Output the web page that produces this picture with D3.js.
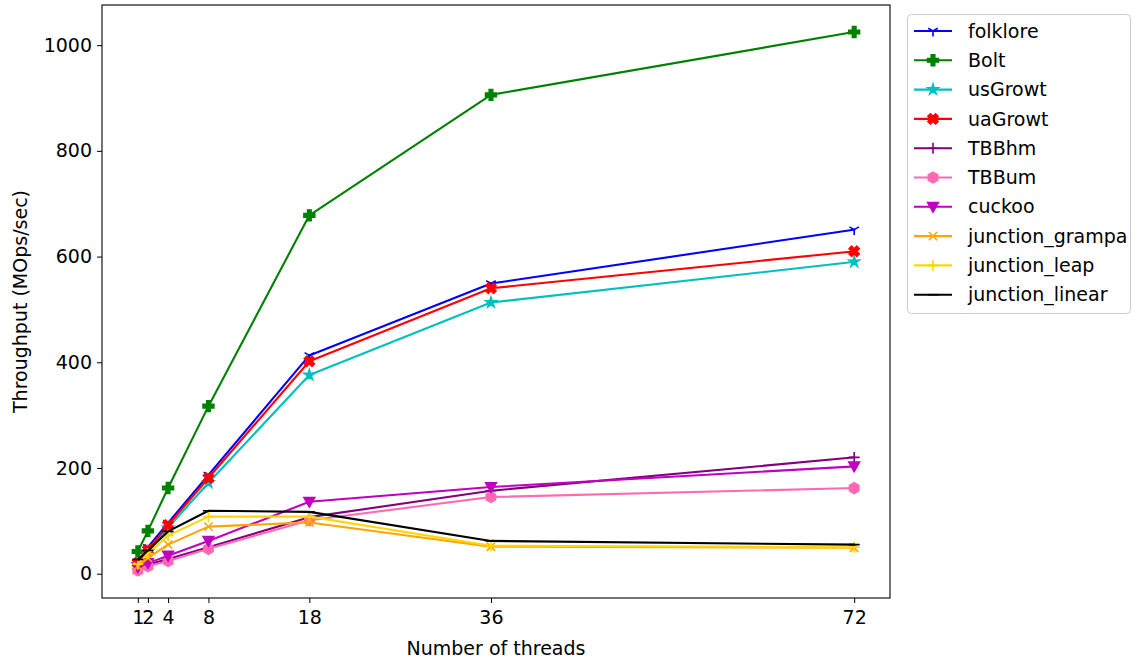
<!DOCTYPE html>
<html>
<head>
<meta charset="utf-8">
<script src="https://cdn.jsdelivr.net/npm/d3@7"></script>
<style>
  html, body { margin: 0; padding: 0; background: #fff; }
  svg { display: block; font-family: "DejaVu Sans", sans-serif; }
</style>
</head>
<body>
<svg id="chart" width="1138" height="666"></svg>
<script>
// Thread counts on the x axis
const threads = [1, 2, 4, 8, 18, 36, 72];
const xTickLabels = ["1", "2", "4", "8", "18", "36", "72"];
const yTicks = [0, 200, 400, 600, 800, 1000];

// Throughput per implementation (MOps/sec)
const folklore = [22, 50, 96, 187, 413, 549, 651];
const bolt = [42, 81, 162, 317, 678, 906, 1025];
const usGrowt = [18, 42, 87, 172, 376, 513, 590];
const uaGrowt = [20, 45, 92, 181, 402, 540, 610];
const tbbHm = [9, 17, 28, 50, 107, 157, 220];
const tbbUm = [6, 14, 24, 47, 101, 145, 162];
const cuckoo = [12, 20, 34, 62, 136, 164, 203];
const junctionGrampa = [14, 30, 55, 89, 97, 51, 49];
const junctionLeap = [18, 38, 72, 108, 108, 53, 50];
const junctionLinear = [27, 44, 80, 119, 117, 62, 55];

const seriesNames = ["folklore", "Bolt", "usGrowt", "uaGrowt", "TBBhm", "TBBum", "cuckoo",
                     "junction_grampa", "junction_leap", "junction_linear"];
const seriesValues = [folklore, bolt, usGrowt, uaGrowt, tbbHm, tbbUm, cuckoo,
                      junctionGrampa, junctionLeap, junctionLinear];
const seriesColors = ["#0000ff", "#008000", "#00bfbf", "#ff0000", "#800080", "#ff69b4",
                      "#bf00bf", "#ffa500", "#ffd700", "#000000"];
const seriesMarkers = ["tri_down", "plus_filled", "star", "x_filled", "plus", "hexagon",
                       "triangle_down", "x", "plus", "hline"];

const svg = d3.select("#chart");
const plot = { left: 102, right: 890, top: 5, bottom: 598 };
const FONT = "19px";

const x = d3.scaleLinear().domain([-2.55, 75.55]).range([plot.left, plot.right]);
const y = d3.scaleLinear().domain([-46, 1076]).range([plot.bottom, plot.top]);

// Marker shapes (path strings centred on 0,0); r is the half size
function markerPath(kind, r) {
  const p = d3.path();
  switch (kind) {
    case "tri_down": {
      p.moveTo(0, 0); p.lineTo(0, r);
      p.moveTo(0, 0); p.lineTo(-r * 0.87, -r * 0.5);
      p.moveTo(0, 0); p.lineTo(r * 0.87, -r * 0.5);
      break;
    }
    case "plus": {
      p.moveTo(-r, 0); p.lineTo(r, 0);
      p.moveTo(0, -r); p.lineTo(0, r);
      break;
    }
    case "x": {
      const a = r * 0.75;
      p.moveTo(-a, -a); p.lineTo(a, a);
      p.moveTo(-a, a); p.lineTo(a, -a);
      break;
    }
    case "hline": {
      p.moveTo(-r, 0); p.lineTo(r, 0);
      break;
    }
    case "plus_filled": {
      const t = r / 3;
      const pts = [[-t, -r], [t, -r], [t, -t], [r, -t], [r, t], [t, t], [t, r], [-t, r],
                   [-t, t], [-r, t], [-r, -t], [-t, -t]];
      pts.forEach((q, i) => i ? p.lineTo(q[0], q[1]) : p.moveTo(q[0], q[1]));
      p.closePath();
      break;
    }
    case "x_filled": {
      const t = r / 3;
      const base = [[-t, -r], [t, -r], [t, -t], [r, -t], [r, t], [t, t], [t, r], [-t, r],
                    [-t, t], [-r, t], [-r, -t], [-t, -t]];
      const c = Math.SQRT1_2;
      base.map(q => [(q[0] - q[1]) * c, (q[0] + q[1]) * c])
          .forEach((q, i) => i ? p.lineTo(q[0], q[1]) : p.moveTo(q[0], q[1]));
      p.closePath();
      break;
    }
    case "hexagon": {
      for (let i = 0; i < 6; i++) {
        const ang = -Math.PI / 2 + i * Math.PI / 3;
        const px = r * Math.cos(ang), py = r * Math.sin(ang);
        i ? p.lineTo(px, py) : p.moveTo(px, py);
      }
      p.closePath();
      break;
    }
    case "triangle_down": {
      p.moveTo(-r, -r * 0.8); p.lineTo(r, -r * 0.8); p.lineTo(0, r); p.closePath();
      break;
    }
    case "star": {
      const outer = r * 1.05, inner = outer * 0.38;
      for (let i = 0; i < 10; i++) {
        const ang = -Math.PI / 2 + i * Math.PI / 5;
        const rr = i % 2 ? inner : outer;
        const px = rr * Math.cos(ang), py = rr * Math.sin(ang);
        i ? p.lineTo(px, py) : p.moveTo(px, py);
      }
      p.closePath();
      break;
    }
  }
  return p.toString();
}
const filledKinds = new Set(["plus_filled", "x_filled", "hexagon", "triangle_down", "star"]);

function drawMarker(g, kind, color, cx, cy, r) {
  const filled = filledKinds.has(kind);
  g.append("path")
    .attr("d", markerPath(kind, r))
    .attr("transform", `translate(${cx},${cy})`)
    .attr("fill", filled ? color : "none")
    .attr("stroke", color)
    .attr("stroke-width", filled ? 1.4 : 1.6)
    .attr("stroke-linejoin", "miter");
}

// Axes
const xAxis = d3.axisBottom(x).tickValues(threads)
  .tickFormat((d, i) => xTickLabels[i]).tickSize(5).tickPadding(8);
const yAxis = d3.axisLeft(y).tickValues(yTicks).tickFormat(d3.format("d"))
  .tickSize(5).tickPadding(5);

const gx = svg.append("g").attr("transform", `translate(0,${plot.bottom})`).call(xAxis);
const gy = svg.append("g").attr("transform", `translate(${plot.left},0)`).call(yAxis);
[gx, gy].forEach(g => {
  g.select(".domain").remove();
  g.selectAll(".tick line").attr("stroke", "#000").attr("stroke-width", 1);
  g.selectAll(".tick text").attr("fill", "#000").style("font-size", FONT)
    .style("font-family", "DejaVu Sans, sans-serif");
});

// Series lines and markers
const data = seriesNames.map((name, i) => ({
  name, color: seriesColors[i], marker: seriesMarkers[i],
  points: threads.map((t, j) => ({ t, v: seriesValues[i][j] }))
}));

const line = d3.line().x(d => x(d.t)).y(d => y(d.v));
const plotG = svg.append("g");
data.forEach(s => {
  const g = plotG.append("g");
  g.append("path").datum(s.points)
    .attr("d", line).attr("fill", "none")
    .attr("stroke", s.color).attr("stroke-width", 2.1)
    .attr("stroke-linejoin", "round").attr("stroke-linecap", "square");
  s.points.forEach(pt => drawMarker(g, s.marker, s.color, x(pt.t), y(pt.v), 5.5));
});

// Frame
svg.append("rect")
  .attr("x", plot.left).attr("y", plot.top)
  .attr("width", plot.right - plot.left).attr("height", plot.bottom - plot.top)
  .attr("fill", "none").attr("stroke", "#000").attr("stroke-width", 1.1);

// Axis labels
svg.append("text")
  .attr("x", (plot.left + plot.right) / 2).attr("y", 655)
  .attr("text-anchor", "middle").style("font-size", FONT)
  .text("Number of threads");
svg.append("text")
  .attr("transform", `translate(27,${(plot.top + plot.bottom) / 2}) rotate(-90)`)
  .attr("text-anchor", "middle").style("font-size", FONT)
  .text("Throughput (MOps/sec)");

// Legend
const legend = svg.append("g");
legend.append("rect")
  .attr("x", 907.5).attr("y", 14.5).attr("width", 223).attr("height", 299)
  .attr("rx", 4).attr("fill", "#fff").attr("fill-opacity", 0.8)
  .attr("stroke", "#cccccc").attr("stroke-width", 1);
data.forEach((s, i) => {
  const ly = 31 + i * 29.3;
  const g = legend.append("g");
  g.append("line").attr("x1", 914).attr("x2", 952).attr("y1", ly).attr("y2", ly)
    .attr("stroke", s.color).attr("stroke-width", 2.1);
  drawMarker(g, s.marker, s.color, 933, ly, 5.5);
  g.append("text").attr("x", 968).attr("y", ly).attr("dy", "0.35em")
    .style("font-size", FONT).text(s.name);
});
</script>
</body>
</html>
